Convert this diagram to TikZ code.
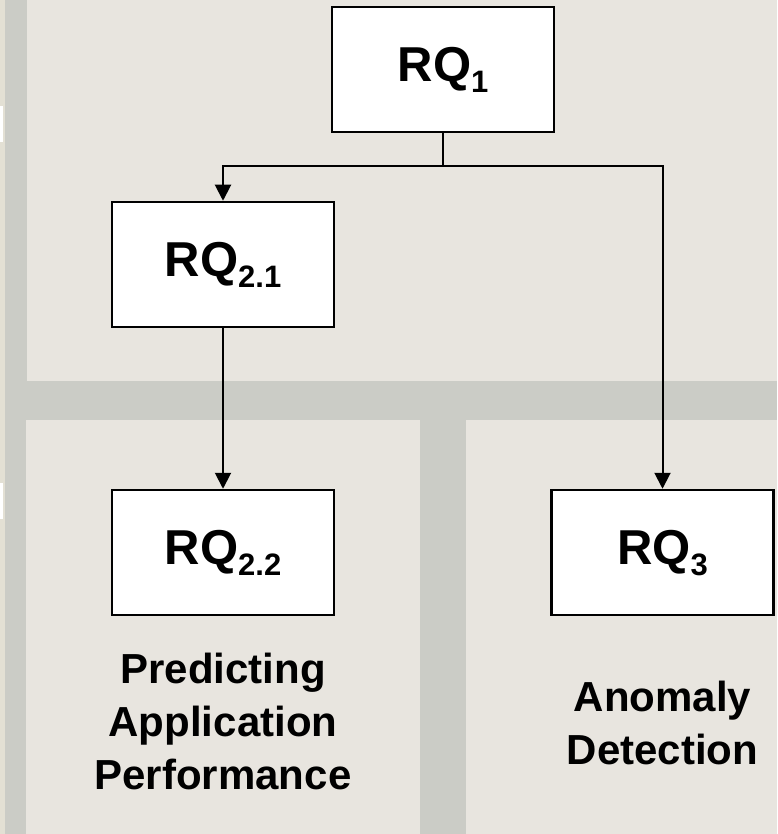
\documentclass[tikz,border=0pt]{standalone}
\usepackage{fontspec}
\setmainfont{Liberation Sans}
\usetikzlibrary{arrows.meta, positioning}

\definecolor{panelbg}{HTML}{E8E5DF}
\definecolor{bandgray}{HTML}{CBCCC6}
\definecolor{edgestrip}{HTML}{E3E0D4}

\newcommand{\rqsub}[1]{RQ\smash{\raisebox{-11pt}{\fontsize{31}{31}\selectfont #1}}}

\begin{document}
\begin{tikzpicture}[
        x=1pt, y=-1pt,
        font=\bfseries,
        >={Triangle[width=16pt,length=16pt]},
        rqbox/.style={draw, line width=2.5pt, fill=white, inner sep=0pt,
            minimum width=222pt, minimum height=125pt,
            font=\fontsize{49}{49}\selectfont\bfseries},
        caption/.style={align=center, inner sep=0pt,
            font=\fontsize{42}{53}\selectfont\bfseries},
        arrow/.style={->, line width=2pt}
    ]
    \useasboundingbox (0,0) rectangle (777,834);

    % Background panels
    \fill[bandgray] (0,0) rectangle (777,834);
    \fill[edgestrip] (0,0) rectangle (5,834);
    \fill[white] (0,106) rectangle (3,142);
    \fill[white] (0,483) rectangle (3,519);
    \fill[panelbg] (27,0) rectangle (777,381);
    \fill[panelbg] (26,420) rectangle (420,834);
    \fill[panelbg] (466,420) rectangle (777,834);

    % Nodes
    \node[rqbox] (rq1) at (443,69.5) {\rqsub{1}};
    \node[rqbox] (rq21) at (223,264.5) {\rqsub{2.1}};
    \node[rqbox] (rq22) at (223,552.5) {\rqsub{2.2}};
    \node[rqbox] (rq3) at (662.5,552.5) {\rqsub{3}};
    \node[caption, below=37pt of rq22] (perf) {Predicting\\Application\\Performance};
    \node[caption, below=65pt of rq3] (anomaly) {Anomaly\\Detection};
    \coordinate (split) at (rq1.south |- 0,166);

    % Arrows
    \draw[line width=2pt] (rq1.south) -- (split);
    \draw[arrow] (split) -| (rq21.north);
    \draw[arrow] (split) -| (rq3.north);
    \draw[arrow] (rq21) -- (rq22);

\end{tikzpicture}
\end{document}
